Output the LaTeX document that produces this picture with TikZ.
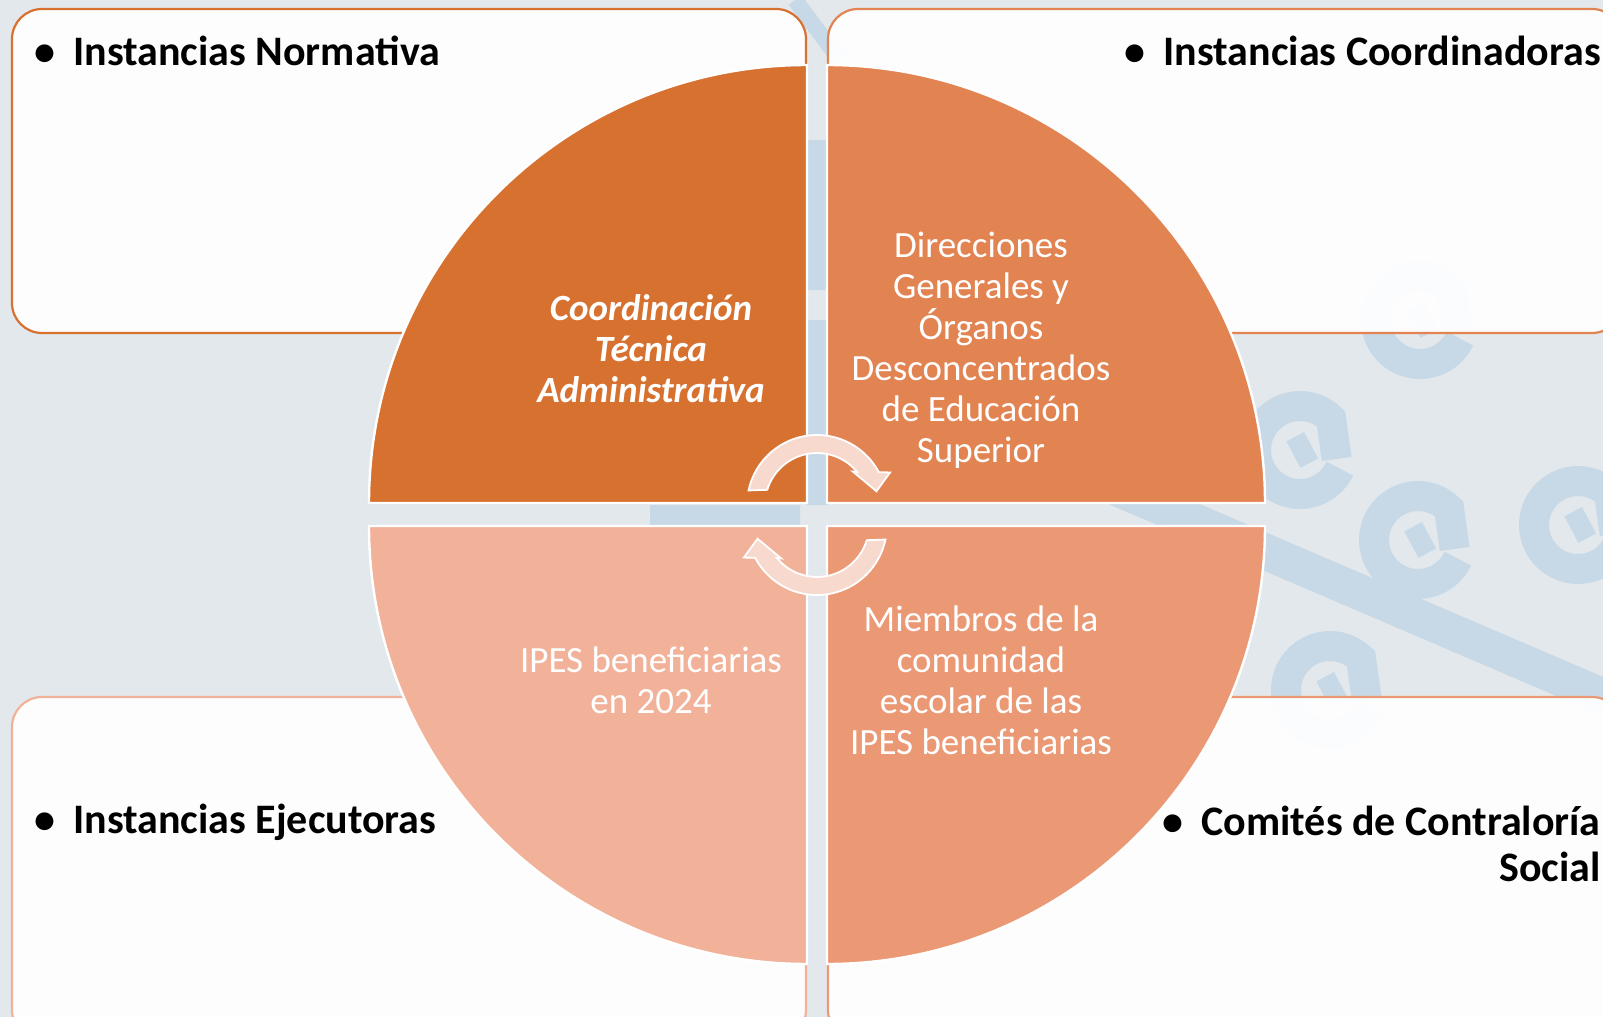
\documentclass[tikz,border=0pt]{standalone}
\usepackage{fontspec}
\setmainfont{Carlito}
\usetikzlibrary{positioning}

\definecolor{bgc}{HTML}{E3E8EC}
\definecolor{pat}{HTML}{C7D9E7}
\definecolor{qa}{HTML}{D77130}
\definecolor{qb}{HTML}{E28352}
\definecolor{qc}{HTML}{EB9975}
\definecolor{qd}{HTML}{F2B29A}
\definecolor{arw}{HTML}{F8D9CE}

\tikzset{
  curl/.pic={
    \draw[pat, line width=15pt] (44,0) arc[start angle=0, end angle=290, radius=44] -- ++(22,34);
    \draw[pat, line width=10pt] (-10,-10) -- (14,8);
  }
}

\begin{document}
\begin{tikzpicture}[x=0.5pt, y=-0.5pt,
    panel/.style={draw=#1, line width=1.1pt, fill=white, fill opacity=0.93, rounded corners=15pt},
    sector/.style={fill=#1, draw=white, line width=1.2pt},
    heading/.style={inner sep=0pt, text=black, align=right, font=\fontsize{21}{23}\selectfont\bfseries},
    seclabel/.style={inner sep=0pt, text=white, align=center, font=\fontsize{18.5}{20.5}\selectfont},
    cycle arrow/.style={fill=arw, draw=white, line width=0.9pt}
  ]
  \useasboundingbox (0,0) rectangle (1603,1017);
  \clip (0,0) rectangle (1603,1017);
  \fill[bgc] (0,0) rectangle (1603,1017);

  \draw[pat, line width=18pt] (1000,438) -- (1700,738);
  \fill[pat] (806,140) rectangle (828,290) (806,320) rectangle (828,505) (650,505) rectangle (800,526);
  \pic[rotate=-25] at (1418,540) {curl};
  \pic[rotate=-25] at (1578,525) {curl};
  \pic[rotate=-25] at (1300,450) {curl};
  \pic[rotate=-25] at (1330,690) {curl};
  \pic[rotate=-25] at (1420,320) {curl};
  \draw[pat, line width=8pt] (795,0) -- (840,60);

  \draw[panel=qa] (12,9) rectangle (806,333);
  \draw[panel=qb] (828,9) rectangle (1622,333);
  \draw[panel=qd] (12,697) rectangle (806,1040);
  \draw[panel=qc] (828,697) rectangle (1622,1040);

  \node (norm) [heading, anchor=west] at (34,51) {\textbullet\hspace{9pt}Instancias Normativa};
  \node (coord) [heading, anchor=east] at (1601,51) {\textbullet\hspace{9pt}Instancias Coordinadoras};
  \node (ejec) [heading, anchor=west] at (34,822) {\textbullet\hspace{9pt}Instancias Ejecutoras};
  \node (comite) [heading, anchor=east] at (1601,844) {\textbullet\hspace{9pt}Comités de Contraloría\\Social};

  \draw[sector=qa] (807,503) -- (369,503) arc[start angle=180, end angle=270, radius=438] -- cycle;
  \draw[sector=qb] (827,503) -- (827,65) arc[start angle=270, end angle=360, radius=438] -- cycle;
  \draw[sector=qc] (827,526) -- (1265,526) arc[start angle=0, end angle=90, radius=438] -- cycle;
  \draw[sector=qd] (807,526) -- (807,964) arc[start angle=90, end angle=180, radius=438] -- cycle;

  \node (cta) [seclabel, font=\fontsize{18.5}{20.5}\selectfont\bfseries\itshape] at (651,349) {Coordinación\\Técnica\\Administrativa};
  \node (dges) [seclabel] at (981,350) {Direcciones\\Generales y\\Órganos\\Desconcentrados\\de Educación\\Superior};
  \node (ipes) [seclabel] at (651,680) {IPES beneficiarias\\en 2024};
  \node (miem) [seclabel] at (981,680) {Miembros de la\\comunidad\\escolar de las\\IPES beneficiarias};

  \begin{scope}[shift={(817,505)}]
    \draw[cycle arrow] (192:70) arc[start angle=192, end angle=332, radius=70] -- (336:80) -- (347:61)
      -- (317:49) -- (320.6:52) arc[start angle=320.6, end angle=197, radius=52] -- cycle;
  \end{scope}
  \begin{scope}[shift={(817,525)}, rotate=180]
    \draw[cycle arrow] (192:70) arc[start angle=192, end angle=332, radius=70] -- (336:80) -- (347:61)
      -- (317:49) -- (320.6:52) arc[start angle=320.6, end angle=197, radius=52] -- cycle;
  \end{scope}
\end{tikzpicture}
\end{document}
